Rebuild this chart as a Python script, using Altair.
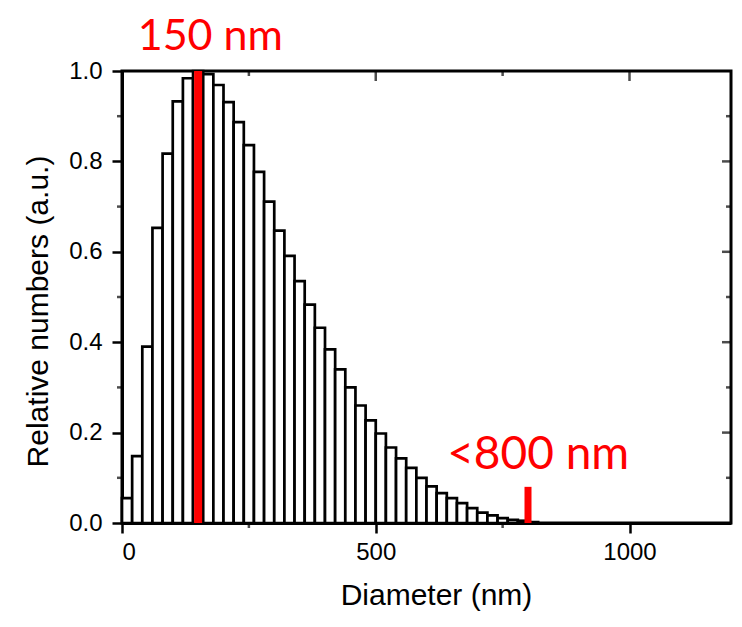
import altair as alt
import pandas as pd

# ---- data ----
bin_width = 20
bin_starts = list(range(0, 820, 20))  # 0..800
rel_counts = [0.055, 0.148, 0.390, 0.653, 0.817, 0.933, 0.984, 1.000, 0.993, 0.969,
              0.931, 0.887, 0.836, 0.777, 0.711, 0.647, 0.591, 0.535, 0.483, 0.432,
              0.384, 0.340, 0.300, 0.260, 0.227, 0.198, 0.167, 0.143, 0.122, 0.100,
              0.081, 0.066, 0.055, 0.044, 0.033, 0.023, 0.017, 0.011, 0.007, 0.005,
              0.002]

peak_marker_x = [150]
peak_marker_top = [1.0]
limit_marker_x = [800]
limit_marker_top = [0.08]

annot_text = ["150 nm", "<800 nm"]
annot_x = [174, 820]
annot_y = [1.047, 0.12]

x_major = [0, 500, 1000]
x_minor = [250, 750]
y_major = [0.0, 0.2, 0.4, 0.6, 0.8, 1.0]
y_minor = [0.1, 0.3, 0.5, 0.7, 0.9]

x_domain = [0, 1200]
y_domain = [0, 1.0]

# ---- tables ----
bars = pd.DataFrame({
    "start": bin_starts,
    "end": [s + bin_width for s in bin_starts],
    "value": rel_counts,
})
peak = pd.DataFrame({"x": peak_marker_x, "y": [0.0], "y2": peak_marker_top})
limit = pd.DataFrame({"x": limit_marker_x, "y": [0.0], "y2": limit_marker_top})
annots = pd.DataFrame({"t": annot_text, "x": annot_x, "y": annot_y})

xs = alt.Scale(domain=x_domain, nice=False, zero=False)
ys = alt.Scale(domain=y_domain, nice=False)

x_axis = alt.Axis(values=x_major, format="d", title="Diameter (nm)", titleX=314,
                  titleY=81, titleBaseline="alphabetic", labelPadding=7)
y_axis = alt.Axis(values=y_major, format=".1f", title="Relative numbers (a.u.)",
                  titleX=-75, titleY=240, titleBaseline="alphabetic",
                  titleAngle=-90, labelPadding=10)

bar_layer = alt.Chart(bars).mark_bar(
    fill="white", stroke="black", strokeWidth=2.7
).encode(
    x=alt.X("start:Q", scale=xs, axis=x_axis),
    x2="end:Q",
    y=alt.Y("value:Q", scale=ys, axis=y_axis),
    y2=alt.datum(0),
)

peak_layer = alt.Chart(peak).mark_rule(color="#ff0000", strokeWidth=8).encode(
    x=alt.X("x:Q", scale=xs), y=alt.Y("y:Q", scale=ys), y2="y2:Q"
)
limit_layer = alt.Chart(limit).mark_rule(color="#ff0000", strokeWidth=7).encode(
    x=alt.X("x:Q", scale=xs), y=alt.Y("y:Q", scale=ys), y2="y2:Q"
)

text_top = alt.Chart(annots.iloc[:1]).mark_text(
    color="#ff0000", font="Lato", fontSize=43, align="center", baseline="alphabetic"
).encode(x=alt.X("x:Q", scale=xs), y=alt.Y("y:Q", scale=ys), text="t:N")

text_low = alt.Chart(annots.iloc[1:]).mark_text(
    color="#ff0000", font="Lato", fontSize=46, align="center", baseline="alphabetic"
).encode(x=alt.X("x:Q", scale=xs), y=alt.Y("y:Q", scale=ys), text="t:N")


def vticks(vals, ypos, size, offset):
    df = pd.DataFrame({"x": vals})
    return alt.Chart(df).mark_tick(
        orient="vertical", color="black", size=size, thickness=2.5, yOffset=offset
    ).encode(x=alt.X("x:Q", scale=xs), y=alt.Y(datum=ypos, scale=ys))


def hticks(vals, xpos, size, offset):
    df = pd.DataFrame({"y": vals})
    return alt.Chart(df).mark_tick(
        orient="horizontal", color="black", size=size, thickness=2.5, xOffset=offset
    ).encode(y=alt.Y("y:Q", scale=ys), x=alt.X(datum=xpos, scale=xs))


tick_layers = [
    vticks(x_minor, 0.0, 5, 2.5),            # bottom minor, outward
    vticks(x_major[1:], 1.0, 10, 5),         # top major, inward
    vticks(x_minor, 1.0, 5, 2.5),            # top minor, inward
    hticks(y_minor, 0, 5, -2.5),             # left minor, outward
    hticks(y_major[1:-1], 1200, 9, -4.5),    # right major, inward
    hticks(y_minor, 1200, 5, -2.5),          # right minor, inward
]

chart = alt.layer(
    bar_layer, peak_layer, limit_layer, text_top, text_low, *tick_layers
).properties(
    width=609, height=452,
    autosize=alt.AutoSizeParams(type="none"),
    padding={"left": 114, "top": 63, "right": 3, "bottom": 88},
).configure_view(
    stroke="black", strokeWidth=3
).configure_axis(
    labelFont="Liberation Sans", titleFont="Liberation Sans",
    labelFontSize=24, titleFontSize=30, titleFontWeight="normal",
    labelColor="black", titleColor="black",
    domainColor="black", domainWidth=3,
    tickColor="black", tickWidth=2.5, tickSize=10,
    grid=False,
)

chart.save("out.html", embed_options={"renderer": "svg", "actions": False})
